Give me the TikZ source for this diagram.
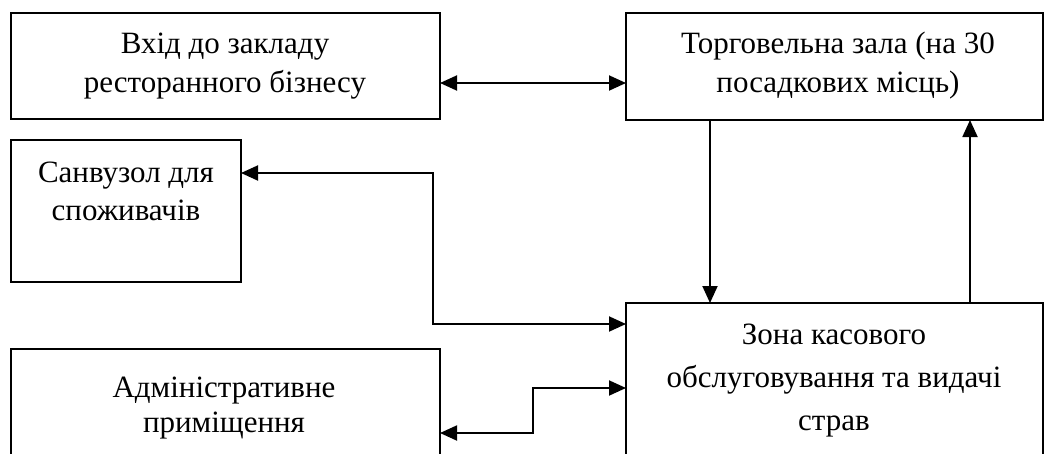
\documentclass[tikz,border=0pt]{standalone}
\usepackage{fontspec}
\setmainfont{Liberation Serif}
\usetikzlibrary{arrows.meta}
\begin{document}
\begin{tikzpicture}[x=1pt,y=-1pt,
  boxnode/.style={draw=black,line width=1.9pt,rectangle,inner sep=0pt,outer sep=0pt,anchor=north west},
  txt/.style={align=center,anchor=base,inner sep=0pt,font=\fontsize{31}{39}\selectfont},
  link/.style={line width=1.9pt,-{Triangle[length=17pt,width=15pt]}},
  dlink/.style={line width=1.9pt,{Triangle[length=17pt,width=15pt]}-{Triangle[length=17pt,width=15pt]}}]
\useasboundingbox (0,0) rectangle (1044,453);
\clip (0,0) rectangle (1044,453);
\node[boxnode,minimum width=429pt,minimum height=106pt] (b1) at (11,13) {};
\node[boxnode,minimum width=417pt,minimum height=107pt] (b2) at (626,13) {};
\node[boxnode,minimum width=230pt,minimum height=142pt] (b3) at (11,140) {};
\node[boxnode,minimum width=417pt,minimum height=200pt] (b4) at (626,303) {};
\node[boxnode,minimum width=429pt,minimum height=160pt] (b5) at (11,349) {};
\node[txt] (t1) at (225,92) {Вхід до закладу\\ресторанного бізнесу};
\node[txt] (t2) at (838,92) {Торговельна зала (на 30\\посадкових місць)};
\node[txt,font=\fontsize{31}{38}\selectfont] (t3) at (126,220) {Санвузол для\\споживачів};
\node[txt,font=\fontsize{31}{43}\selectfont] (t4) at (834,430) {Зона касового\\обслуговування та видачі\\страв};
\node[txt,font=\fontsize{31}{35}\selectfont] (t5) at (224,432) {Адміністративне\\приміщення};
\coordinate (k1) at (433,324);
\coordinate (k2) at (533,433);
\draw[dlink] ([yshift=-70pt]b1.north east) -- ([yshift=-70pt]b2.north west);
\draw[link] ([xshift=84pt]b2.south west) -- ([xshift=84pt]b4.north west);
\draw[link] ([xshift=344pt]b4.north west) -- ([xshift=344pt]b2.south west);
\draw[dlink] ([yshift=-33pt]b3.north east) -| (k1) -- ([yshift=-21pt]b4.north west);
\draw[dlink] ([yshift=-85pt]b4.north west) -| (k2) -- ([yshift=-84pt]b5.north east);
\end{tikzpicture}
\end{document}
